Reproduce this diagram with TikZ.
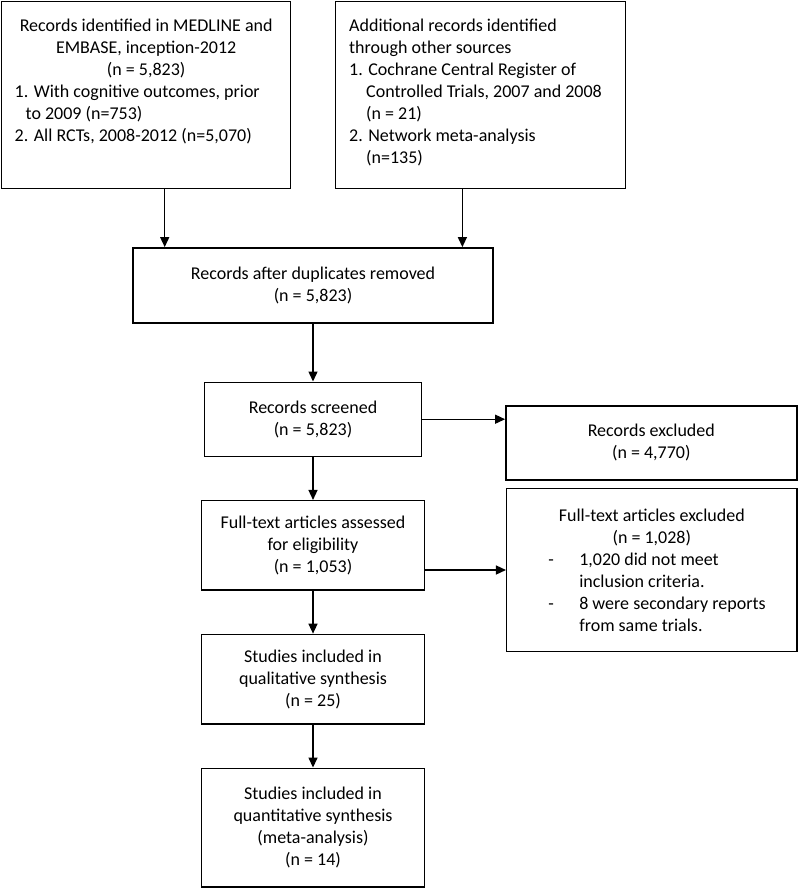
\documentclass[tikz,border=0pt]{standalone}
\usepackage{fontspec}
\setmainfont{Carlito}
\usetikzlibrary{arrows.meta}
\begin{document}
\begin{tikzpicture}[x=1pt,y=-1pt,
    box/.style={draw, line width=1.4pt, inner sep=0pt, align=center,
      font=\fontsize{18}{22}\selectfont},
    flow/.style={-{Triangle[length=10pt,width=9pt]}, line width=1.4pt}]
  \useasboundingbox (0,0) rectangle (799,888);

  % sources
  \node[box, anchor=north west] (medline) at (1,1)
    {\parbox[c][187pt][t]{289pt}{\centering\rule{0pt}{29.5pt}Records identified in MEDLINE and\\
      EMBASE, inception-2012\\ (n = 5,823)\par\raggedright
      \hspace*{13pt}1. With cognitive outcomes, prior\\
      \hspace*{24pt}to 2009 (n=753)\\
      \hspace*{13pt}2. All RCTs, 2008-2012 (n=5,070)}};
  \node[box, anchor=north west] (other) at (335,1)
    {\parbox[c][187pt][t]{290pt}{\raggedright\rule{0pt}{29.5pt}\hspace*{13.5pt}Additional records identified\\
      \hspace*{13.5pt}through other sources\\
      \hspace*{13.5pt}1. Cochrane Central Register of\\
      \hspace*{30.5pt}Controlled Trials, 2007 and 2008\\
      \hspace*{30.5pt}(n = 21)\\
      \hspace*{13.5pt}2. Network meta-analysis\\
      \hspace*{30.5pt}(n=135)}};

  % main column
  \node[box, minimum width=360pt, minimum height=75pt] (dedup) at (313,285.3)
    {Records after duplicates removed\\(n = 5,823)};
  \node[box, minimum width=217pt, minimum height=74pt] (screen) at (313,419.2)
    {Records screened\\(n = 5,823)};
  \node[box, minimum width=222.6pt, minimum height=89.3pt] (fulltext) at (313,545.3)
    {Full-text articles assessed\\for eligibility\\(n = 1,053)};
  \node[box, minimum width=222.6pt, minimum height=89.7pt] (qual) at (313,679.2)
    {Studies included in\\qualitative synthesis\\(n = 25)};
  \node[box, minimum width=222.6pt, minimum height=118.7pt] (quant) at (313,827.6)
    {Studies included in\\quantitative synthesis\\(meta-analysis)\\(n = 14)};

  % exclusions
  \node[box, minimum width=291pt, minimum height=74pt] (recexcl) at (651.3,442.8)
    {Records excluded\\(n = 4,770)};
  \node[box, minimum width=290.3pt, minimum height=163.4pt] (ftexcl) at (651.8,570)
    {Full-text articles excluded\\(n = 1,028)\\
     \makebox[290pt][l]{\hspace*{41.5pt}\makebox[31pt][l]{-}1,020 did not meet}\\
     \makebox[290pt][l]{\hspace*{72.5pt}inclusion criteria.}\\
     \makebox[290pt][l]{\hspace*{41.5pt}\makebox[31pt][l]{-}8 were secondary reports}\\
     \makebox[290pt][l]{\hspace*{72.5pt}from same trials.}};

  \draw[flow] ([xshift=18.5pt]medline.south) -- ([xshift=18.5pt]medline.south |- dedup.north);
  \draw[flow] ([xshift=-18.3pt]other.south) -- ([xshift=-18.3pt]other.south |- dedup.north);
  \draw[flow] (dedup) -- (screen);
  \draw[flow] (screen.east) -- (screen.east -| recexcl.west);
  \draw[flow] (screen) -- (fulltext);
  \draw[flow] (fulltext.east |- ftexcl.west) -- (ftexcl.west);
  \draw[flow] (fulltext) -- (qual);
  \draw[flow] (qual) -- (quant);
\end{tikzpicture}
\end{document}
